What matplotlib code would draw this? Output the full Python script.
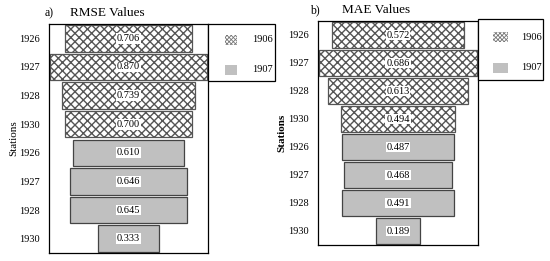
import numpy as np
import matplotlib
matplotlib.use('Agg')
import matplotlib.pyplot as plt
from matplotlib.patches import Rectangle

plt.rcParams['font.family'] = ['Liberation Serif', 'DejaVu Serif']
plt.rcParams['hatch.linewidth'] = 1.0

stations = ['1926', '1927', '1928', '1930', '1926', '1927', '1928', '1930']
groups = ['1906', '1906', '1906', '1906', '1907', '1907', '1907', '1907']
rmse = [0.706, 0.870, 0.739, 0.700, 0.610, 0.646, 0.645, 0.333]
mae = [0.572, 0.686, 0.613, 0.494, 0.487, 0.468, 0.491, 0.189]
legend_labels = ['1906', '1907']

gray = '#c0c0c0'
hatch = 'xxxx'

W, H = 550, 261
fig = plt.figure(figsize=(5.5, 2.61), dpi=100)
ax1 = fig.add_axes([49/W, 8/H, 159/W, 229/H])
ax2 = fig.add_axes([318/W, 16/H, 160/W, 224/H])


def px(x, y):
    # pixel (top-down) -> figure fraction
    return x / W, 1 - y / H


def funnel(ax, vals, half, bold_label):
    y = np.arange(len(vals))
    for i, v in enumerate(vals):
        if groups[i] == '1906':
            ax.barh(y[i], v, left=-v/2, height=0.93, color='white',
                    edgecolor='#555555', hatch=hatch, linewidth=0.9)
        else:
            ax.barh(y[i], v, left=-v/2, height=0.93, color=gray,
                    edgecolor='#444444', linewidth=0.9)
        ax.text(0, y[i], '%.3f' % v, ha='center', va='center', fontsize=7.5,
                bbox=dict(facecolor='white', edgecolor='none', pad=0.6))
    ax.set_xlim(-half, half)
    ax.set_ylim(len(vals) - 0.5, -0.5)
    ax.set_yticks(y)
    ax.set_yticklabels(stations, fontsize=7.5)
    ax.set_xticks([])
    ax.tick_params(axis='y', length=0, pad=6.5)
    ax.set_ylabel('Stations', fontsize=8,
                  fontweight='bold' if bold_label else 'normal', labelpad=1)
    for s in ax.spines.values():
        s.set_linewidth(0.9)


def legend_box(x0, y0, x1, y1, hx, hw, hh, rows, tx):
    fx0, fy1 = px(x0, y1)
    fx1, fy0 = px(x1, y0)
    fig.add_artist(Rectangle((fx0, fy1), fx1 - fx0, fy0 - fy1, transform=fig.transFigure,
                             facecolor='white', edgecolor='black', linewidth=0.9))
    for k, yc in enumerate(rows):
        a, b = px(hx, yc + hh / 2)
        if k == 0:
            p = Rectangle((a, b), hw / W, hh / H, transform=fig.transFigure,
                          facecolor='white', edgecolor='#777777', linewidth=0,
                          hatch='xxxxxxxx')
        else:
            p = Rectangle((a, b), hw / W, hh / H, transform=fig.transFigure,
                          facecolor=gray, edgecolor=gray, linewidth=0)
        fig.add_artist(p)
        fig.text(*px(tx, yc), legend_labels[k], fontsize=7.5, va='center')


funnel(ax1, rmse, 0.44, False)
funnel(ax2, mae, 0.348, True)

plt.rcParams['hatch.linewidth'] = 0.6
legend_box(208, 24, 275, 81, 225, 12, 10, [39.5, 69.5], 252)
legend_box(478, 19, 543, 80, 493, 15, 10, [37, 68], 521)

fig.text(*px(45, 13), 'a)', fontsize=8.5, va='center')
fig.text(*px(70, 13), 'RMSE Values', fontsize=9.5, va='center')
fig.text(*px(310, 10), 'b)', fontsize=8.5, va='center')
fig.text(*px(342, 10), 'MAE Values', fontsize=9.5, va='center')

fig.savefig('out.png', dpi=100)
